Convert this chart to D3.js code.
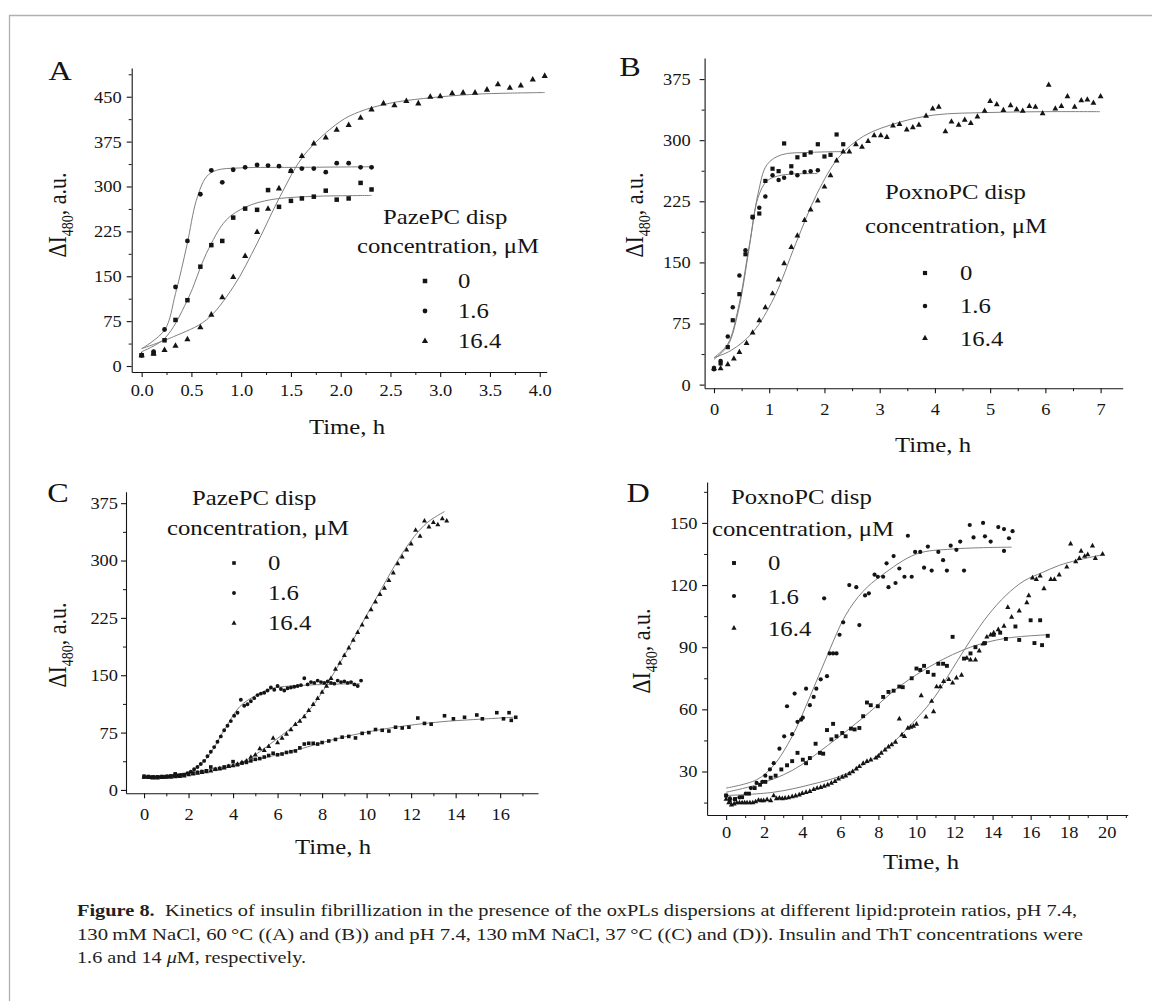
<!DOCTYPE html>
<html><head><meta charset="utf-8">
<script src="https://cdn.jsdelivr.net/npm/d3@7"></script>
<style>
body{margin:0;background:#fff}
svg{display:block}
svg text{font-family:"Liberation Serif","Times New Roman",Times,serif}
</style>
</head><body><svg id="fig" width="1152" height="1001"></svg>
<script>
// ================= DATA =================
const seriesLabels = ["0", "1.6", "16.4"];
const legendTitleA = ["PazePC disp", "concentration, \u03BCM"];
const legendTitleB = ["PoxnoPC disp", "concentration, \u03BCM"];

// ---- Panel A ----
const A_t = [0,0.12,0.23,0.34,0.46,0.59,0.70,0.81,0.92,1.04,1.16,1.27,1.38,1.50,1.61,1.73,1.85,1.96,2.08,2.20,2.31];
const A_v0 = [18,21,43,77,110,166,202,209,248,263,261,294,266,276,280,283,293,278,280,306,295];
const A_v16 = [18,24,61,132,209,287,327,307,328,332,336,335,334,326,330,330,324,339,339,332,332];
const A_t164 = [0,0.12,0.23,0.34,0.46,0.59,0.70,0.81,0.92,1.04,1.16,1.27,1.38,1.50,1.61,1.73,1.85,1.96,2.08,2.20,2.31,2.43,2.54,2.66,2.78,2.90,3.0,3.12,3.23,3.35,3.47,3.58,3.70,3.81,3.93,4.05];
const A_v164 = [18,21,27,34,45,65,86,115,149,184,224,263,297,326,351,372,382,395,403,415,429,439,436,443,439,450,451,456,457,457,462,471,465,469,479,485];
const A_fit0 = [[0,24],[0.23,46],[0.46,110],[0.65,188],[0.85,244],[1.05,266],[1.3,278],[1.65,283],[2.0,284.5],[2.31,285]];
const A_fit16 = [[0,29],[0.23,60],[0.34,121],[0.455,202],[0.55,277],[0.65,316],[0.75,327],[0.99,331],[1.6,332],[2.33,333]];
const A_fit164 = [[0,29],[0.32,49],[0.65,77],[0.92,132],[1.16,205],[1.39,283],[1.63,352],[1.99,408],[2.19,425],[2.49,439],[2.83,447],[3.33,454],[3.7,456],[4.05,457]];

// ---- Panel B ----
const B_t = [0,0.12,0.25,0.34,0.46,0.57,0.70,0.82,0.93,1.06,1.17,1.27,1.40,1.51,1.64,1.75,1.88,2.0,2.11,2.22,2.34];
const B_v0 = [20,26,46,79,111,160,206,210,250,265,262,296,268,279,282,285,295,280,282,307,295];
const B_v16 = [19,29,59,95,134,165,205,217,231,257,251,254,260,257,261,262,263];
const B_t164 = [0,0.12,0.25,0.36,0.46,0.59,0.70,0.82,0.93,1.06,1.17,1.27,1.40,1.51,1.64,1.75,1.88,2.0,2.11,2.22,2.34,2.45,2.57,2.68,2.79,2.90,3.02,3.13,3.24,3.36,3.49,3.60,3.71,3.84,3.96,4.07,4.19,4.30,4.43,4.54,4.65,4.77,4.90,5.0,5.12,5.24,5.37,5.48,5.59,5.71,5.82,5.95,6.06,6.18,6.29,6.40,6.53,6.65,6.76,6.87,7.0];
const B_v164 = [20,20,25,32,40,51,64,79,95,112,129,149,169,183,202,215,226,243,257,275,286,286,295,292,299,306,306,304,318,320,313,316,319,330,339,341,311,323,319,325,321,329,336,348,344,337,343,338,336,342,341,333,368,339,342,354,341,349,350,346,354];
const B_fit0 = [[0,31],[0.25,48],[0.44,90],[0.64,169],[0.80,235],[0.96,270],[1.22,282],[1.74,285],[2.32,286]];
const B_fit16 = [[0,33],[0.25,50],[0.44,94],[0.64,171],[0.80,230],[0.96,250],[1.22,257],[1.87,259]];
const B_fit164 = [[0,33],[0.31,42],[0.70,64],[1.09,107],[1.48,173],[1.87,235],[2.26,279],[2.71,305],[3.36,322],[4.0,331],[4.98,334],[6.0,335],[6.99,335]];

// ---- Panel C ----
const C_t0 = [0,0.2,0.4,0.6,0.8,1.0,1.2,1.4,1.6,1.8,2.0,2.2,2.4,2.6,2.8,3.0,3.2,3.4,3.6,3.8,4.0,4.2,4.4,4.6,4.8,5.0,5.2,5.4,5.6,5.8,6.0,6.2,6.4,6.6,6.8,7.0,7.2,7.4,7.6,7.8,8.0,8.3,8.6,8.9,9.2,9.5,9.8,10.1,10.4,10.7,11.0,11.3,11.6,11.9,12.3,12.6,12.9,13.5,13.9,14.4,14.95,15.2,15.85,16.15,16.4,16.5,16.7];
const C_v0 = [18,17.5,17,17,17.5,17.5,18,21,19,20,21,22,23,24,25,30,27,28,30,31,37,33,35,36,38,40,41,43,45,48,46,47,49,50,51,55,60,61,61,60,62,64,66,69,70,68,74,75,79,78,77,82,81,82,94,87,86,97,93,95,98,93,101,93,101,91,95];
const C_t16 = [0,0.15,0.3,0.45,0.6,0.75,0.9,1.05,1.2,1.35,1.5,1.65,1.8,1.95,2.1,2.25,2.4,2.55,2.7,2.85,3.0,3.15,3.3,3.45,3.6,3.75,3.9,4.05,4.2,4.35,4.5,4.65,4.8,4.95,5.1,5.25,5.4,5.55,5.7,5.85,6.0,6.15,6.3,6.45,6.6,6.75,6.9,7.05,7.2,7.35,7.5,7.65,7.8,7.95,8.1,8.25,8.4,8.55,8.7,8.85,9.0,9.15,9.3,9.45,9.6,9.75];
const C_v16 = [17,17,16.5,16.5,16.5,17,17,17.5,18,19,19,19.5,20,22,24,27,30,34,38,44,50,56,63,70,78,84,90,97,101,118,110,112,116,120,124,126,127,130,134,131,136,132,130,133,134,135,136,137,146,138,141,140,143,141,140,142,140,139,143,141,142,140,141,138,136,143];
const C_t164 = [0,0.2,0.4,0.6,0.8,1.0,1.2,1.4,1.6,1.8,2.0,2.2,2.4,2.6,2.8,3.0,3.2,3.4,3.6,3.8,4.0,4.2,4.4,4.6,4.8,5.0,5.2,5.4,5.6,5.8,6.0,6.2,6.4,6.6,6.8,7.0,7.2,7.4,7.6,7.8,8.0,8.2,8.4,8.6,8.8,9.0,9.2,9.4,9.6,9.8,10.0,10.2,10.4,10.6,10.8,11.0,11.2,11.4,11.6,11.8,12.0,12.2,12.4,12.6,12.8,13.0,13.2,13.4,13.6];
const C_v164 = [17,16.5,16,16,16.5,17,17,17.5,18,18.5,20,21,22,23,24,25,27,28,29,31,32,34,36,38,43,46,54,52,57,68,62,68,73,79,86,90,96,104,112,120,128,136,146,158,166,176,186,196,206,216,226,236,246,256,264,274,284,296,305,314,322,340,332,352,344,350,347,355,352];
const C_fit0 = [[0,17],[2.07,22],[4.3,35],[6.56,50],[8.8,68],[11.06,81],[13.3,89],[14.8,92],[16.6,95]];
const C_fit16 = [[0,17],[1.3,17.5],[2.07,24],[2.8,41],[3.6,78],[4.3,109],[5.06,124],[5.8,133],[7.3,137],[9.7,139]];
const C_fit164 = [[0,17],[2.07,22],[3.6,28],[4.6,39],[5.8,63],[7.3,100],[8.8,166],[10.3,244],[11.8,318],[12.7,349],[13.5,364]];

// ---- Panel D ----
const D_t0 = [0,0.19,0.47,0.84,1.2,1.5,1.78,2.06,2.34,2.6,2.9,3.2,3.47,3.75,4.03,4.2,4.4,4.7,4.93,5.1,5.3,5.53,5.62,5.8,6.1,6.28,6.56,6.75,7.0,7.2,7.4,7.6,7.97,8.25,8.53,8.8,9.1,9.28,9.75,10.0,10.2,10.4,10.6,10.9,11.15,11.4,11.6,11.9,12.5,12.84,13.1,13.6,14.06,14.4,14.7,15.2,15.4,16.0,16.2,16.5,16.6,16.9];
const D_v0 = [18.4,15.9,16.7,17.6,19.3,22,23.6,25,27,28,31,33,35,39,35.7,34,36.5,43.4,39,38.6,50,45.5,53,47,48.6,47,50.7,50.3,51,56.7,63.3,62,61.5,66,68.4,69,71,70.7,75,79.7,79,81,78,76.7,82,82,81,95,84.5,87,90,92,96,97,94,100,93.5,103,92,103,91,95.5];
const D_t16 = [0,0.2,0.45,0.7,1.03,1.3,1.6,1.9,2.06,2.3,2.5,2.8,3.05,3.2,3.47,3.6,3.75,3.94,4.03,4.2,4.4,4.6,4.74,4.97,5.15,5.3,5.44,5.62,5.8,5.96,6.15,6.47,6.84,7.0,7.3,7.5,7.8,7.97,8.25,8.43,8.53,8.8,8.9,9.1,9.37,9.55,9.75,9.93,10.2,10.4,10.6,10.8,11.15,11.4,11.6,11.8,12.1,12.3,12.5,12.8,13.0,13.5,13.6,13.9,14.3,14.6,14.6,14.86,15.05];
const D_v16 = [18.4,17,16.5,17.5,19.3,22,24.5,25,28,31,34,41,47,61.5,48,67.6,54,55,56,70,62,66,70,74.5,113.6,76,87,87,87,96,102,120,119,100.7,115,116,125,124,124,130.5,119,134,121,128,124,143.8,124,136,136,128.4,138.6,127,136,132,127,139,137,141,127,149,143,150,143.5,141,148,147,136.5,142.6,146];
const D_t164 = [0,0.14,0.28,0.42,0.56,0.7,0.84,0.97,1.1,1.25,1.4,1.55,1.7,1.84,1.97,2.15,2.34,2.5,2.65,2.8,2.95,3.1,3.28,3.47,3.65,3.84,4.0,4.2,4.4,4.6,4.78,4.97,5.15,5.34,5.53,5.72,5.9,6.1,6.28,6.47,6.65,6.84,7.0,7.2,7.4,7.6,7.87,8.0,8.15,8.35,8.53,8.7,8.9,9.1,9.24,9.37,9.55,9.7,9.84,10.0,10.25,10.5,10.8,10.9,11.06,11.25,11.43,11.7,11.9,12.1,12.37,12.65,12.84,13.1,13.3,13.5,13.7,13.9,14.06,14.3,14.6,14.8,15.0,15.4,15.8,15.9,16.1,16.3,16.5,16.7,17.06,17.25,17.5,17.9,18.1,18.37,18.56,18.65,18.84,19.0,19.25,19.4,19.78];
const D_v164 = [16.7,15,14,14.5,15,15,15,15,15,15,15,15.5,16.2,16,16,16.5,16,18.4,17,17.2,17,17.2,17.5,18,18.3,18.8,19.5,20,20.5,21.4,22,22.4,23,23.6,24.5,25.3,26.5,27.4,28,29,30,31.4,32.5,34,35,35.7,36.6,37.5,39,40.5,42,43,44.3,55.5,47.8,47,51,51.5,52,53,66.7,56.4,64,59,71,71,73.6,74.5,72.8,75.3,76.6,84.8,84,84,88.3,91.7,95,96,97,98.6,100.3,109.3,104.6,107.6,111.6,115,123.6,122.8,124.5,118.4,122.8,122.8,125,128.8,140,131.4,133,136.5,134,134.8,139,133,135];
const D_fit0 = [[0,20],[1.6,23.6],[3.47,30.5],[5.34,42.6],[7.2,56],[9.1,71],[10.96,82],[12.84,90],[14.7,94.3],[16.9,96]];
const D_fit16 = [[0,22],[1.6,26],[2.5,33],[3.47,47],[4.4,66],[5.34,86.6],[6.28,105.5],[7.2,117],[8.15,124.5],[10.0,135],[11.9,137.4],[15.0,138.3]];
const D_fit164 = [[0,18.4],[2.5,20],[4.4,23.6],[6.28,28.8],[8.15,39],[10.0,55.5],[10.96,66],[11.9,79.7],[12.84,93.4],[13.77,105.5],[14.7,115],[15.65,122],[16.6,126],[17.5,129.5],[18.46,132],[19.87,134.8]];

// ---- Caption ----
const captionBold = "Figure 8.";
const captionLine1 = "\u00A0\u00A0Kinetics of insulin fibrillization in the presence of the oxPLs dispersions at different lipid:protein ratios, pH 7.4,";
const captionLine2 = "130\u2009mM NaCl, 60\u2009\u00B0C ((A) and (B)) and pH 7.4, 130\u2009mM NaCl, 37\u2009\u00B0C ((C) and (D)). Insulin and ThT concentrations were";
const captionLine3a = "1.6 and 14 ";
const captionLine3mu = "\u03BC";
const captionLine3b = "M, respectively.";

// ================= DRAWING =================
const INK = "#141414";
const SX = 1.15;
const zip = (t, v) => t.map((x, i) => [x, v[i]]);
const svg = d3.select("#fig");
svg.append("rect").attr("width", 1152).attr("height", 1001).attr("fill", "#fff");
svg.append("path").attr("d", "M9.5,1001V15.5H1152").attr("fill", "none").attr("stroke", "#b0b0b0").attr("stroke-width", 1.3);

function hText(parent, x, y, str, size, anchor) {
  return parent.append("text")
    .attr("transform", `translate(${x},${y}) scale(${SX},1)`)
    .attr("font-size", size).attr("text-anchor", anchor || "start")
    .attr("fill", INK).text(str);
}
function symPath(type, s) {
  if (type === "square") return `M${-s/2},${-s/2}h${s}v${s}h${-s}Z`;
  if (type === "circle") return d3.symbol(d3.symbolCircle, Math.PI * (s/2) * (s/2))();
  const h = s * 0.9;
  return `M0,${-h*0.62}L${s/2},${h*0.38}L${-s/2},${h*0.38}Z`;
}
const TYPES = ["square", "circle", "triangle"];

function panel(c) {
  const x = d3.scaleLinear().domain(c.xd).range(c.xr);
  const y = d3.scaleLinear().domain(c.yd).range(c.yr);
  const g = svg.append("g");

  // fitted curves
  const line = d3.line().x(d => x(d[0])).y(d => y(d[1])).curve(d3.curveCatmullRom.alpha(0.5));
  g.append("g").selectAll("path").data(c.fits).join("path")
    .attr("d", d => line(d)).attr("fill", "none").attr("stroke", "#808080").attr("stroke-width", 1);

  // points
  c.series.forEach((s, i) => {
    g.append("g").selectAll("path").data(s).join("path")
      .attr("transform", d => `translate(${x(d[0])},${y(d[1])})`)
      .attr("d", symPath(TYPES[i], c.ms[i])).attr("fill", INK);
  });

  // axes
  const gx = g.append("g").attr("transform", `translate(0,${c.yr[0]})`)
    .call(d3.axisBottom(x).tickValues(c.xMajor).tickFormat(c.xFmt).tickSize(5).tickSizeOuter(0));
  gx.attr("font-family", null).attr("font-size", 16).attr("color", INK);
  gx.selectAll(".tick text").attr("y", 0).attr("dy", 0)
    .attr("transform", `translate(0,${c.xLabDy}) scale(${SX},1)`);
  g.append("g").attr("transform", `translate(0,${c.yr[0]})`)
    .call(d3.axisBottom(x).tickValues(c.xMinor).tickFormat("").tickSize(3))
    .attr("color", INK).call(s => s.select(".domain").remove());

  const gy = g.append("g").attr("transform", `translate(${c.xr[0]},0)`)
    .call(d3.axisLeft(y).tickValues(c.yMajor).tickFormat(d3.format("d")).tickSize(5).tickSizeOuter(0));
  gy.attr("font-family", null).attr("font-size", 16).attr("color", INK);
  gy.selectAll(".tick text").attr("x", 0).attr("dy", "0.34em")
    .attr("transform", `translate(${-c.yGap},0) scale(${SX},1)`);
  g.append("g").attr("transform", `translate(${c.xr[0]},0)`)
    .call(d3.axisLeft(y).tickValues(c.yMinor).tickFormat("").tickSize(3))
    .attr("color", INK).call(s => s.select(".domain").remove());
  gx.selectAll("line, path").attr("stroke-width", 1.1);
  gy.selectAll("line, path").attr("stroke-width", 1.1);

  // panel letter
  hText(g, c.letter[1], c.letter[2], c.letter[0], 28, "middle");
  // x title
  hText(g, c.xTitle[0], c.xTitle[1], "Time, h", 21.5, "middle");
  // y title (rotated)
  const yt = g.append("text")
    .attr("transform", `translate(${c.yTitle[0]},${c.yTitle[1]}) rotate(-90) scale(1,${SX})`)
    .attr("font-size", 22).attr("text-anchor", "middle").attr("fill", INK);
  yt.append("tspan").text("\u0394I");
  yt.append("tspan").attr("font-size", 14).attr("dy", 6).text("480");
  yt.append("tspan").attr("dy", -6).text(", a.u.");

  // legend
  c.legend.title.forEach(t => hText(g, t[1], t[2], t[0], 21.5, "start"));
  seriesLabels.forEach((lab, i) => {
    g.append("path").attr("transform", `translate(${c.legend.mx},${c.legend.my[i]})`)
      .attr("d", symPath(TYPES[i], c.ms[i])).attr("fill", INK);
    hText(g, c.legend.tx, c.legend.ty[i], lab, 21.5, "start");
  });
}

const steps = (a, b, s) => d3.range(a, b + s / 2, s);

panel({
  xd: [-0.1, 4.07], xr: [131.7, 546.7], yd: [-10, 498], yr: [372, 68],
  xMajor: steps(0, 4, 0.5), xMinor: steps(0.25, 3.75, 0.5), xFmt: d3.format(".1f"),
  yMajor: steps(0, 450, 75), yMinor: steps(37.5, 487.5, 75),
  yGap: 10, xLabDy: 23.5,
  series: [zip(A_t, A_v0), zip(A_t, A_v16), zip(A_t164, A_v164)],
  fits: [A_fit0, A_fit16, A_fit164], ms: [4.5, 4.8, 6.2],
  letter: ["A", 60, 80], xTitle: [347, 434], yTitle: [66, 215],
  legend: { title: [[legendTitleA[0], 383, 224], [legendTitleA[1], 357, 253]],
            tx: 458, ty: [288, 318, 348], mx: 425, my: [281, 311, 341] }
});
panel({
  xd: [-0.17, 7.4], xr: [704.6, 1122.7], yd: [-4.4, 401], yr: [388.2, 57.9],
  xMajor: steps(0, 7, 1), xMinor: steps(0.5, 6.5, 1), xFmt: d3.format("d"),
  yMajor: steps(0, 375, 75), yMinor: steps(37.5, 337.5, 75),
  yGap: 14, xLabDy: 27,
  series: [zip(B_t, B_v0), zip(B_t.slice(0, B_v16.length), B_v16), zip(B_t164, B_v164)],
  fits: [B_fit0, B_fit16, B_fit164], ms: [4.2, 4.5, 5.8],
  letter: ["B", 630, 76], xTitle: [933, 452], yTitle: [643, 215],
  legend: { title: [[legendTitleB[0], 885, 199], [legendTitleB[1], 865, 233]],
            tx: 960, ty: [280, 313, 346], mx: 925, my: [273, 306, 338] }
});
panel({
  xd: [-0.81, 17.7], xr: [126, 538], yd: [-4.4, 390], yr: [793.3, 491.7],
  xMajor: steps(0, 16, 2), xMinor: steps(1, 17, 2), xFmt: d3.format("d"),
  yMajor: steps(0, 375, 75), yMinor: steps(37.5, 337.5, 75),
  yGap: 8, xLabDy: 27,
  series: [zip(C_t0, C_v0), zip(C_t16, C_v16), zip(C_t164, C_v164)],
  fits: [C_fit0, C_fit16, C_fit164], ms: [3.6, 3.9, 5],
  letter: ["C", 58, 502], xTitle: [333, 854], yTitle: [66, 645],
  legend: { title: [[legendTitleA[0], 192, 505], [legendTitleA[1], 167, 535]],
            tx: 268, ty: [570, 600, 630], mx: 234, my: [563, 593, 623] }
});
panel({
  xd: [-1.0, 21.1], xr: [707.1, 1127.7], yd: [9, 169.7], yr: [815, 482.1],
  xMajor: steps(0, 20, 2), xMinor: steps(1, 21, 2), xFmt: d3.format("d"),
  yMajor: steps(30, 150, 30), yMinor: steps(15, 165, 30),
  yGap: 9.6, xLabDy: 23.3,
  series: [zip(D_t0, D_v0), zip(D_t16, D_v16), zip(D_t164, D_v164)],
  fits: [D_fit0, D_fit16, D_fit164], ms: [3.9, 4.2, 5.2],
  letter: ["D", 638, 502], xTitle: [921, 869], yTitle: [650, 651],
  legend: { title: [[legendTitleB[0], 731, 504], [legendTitleB[1], 712, 536]],
            tx: 768, ty: [570, 604, 636], mx: 734, my: [563, 596, 628] }
});

// caption
const cap = svg.append("g").attr("fill", "#231f20").attr("font-size", 17);
const l1 = cap.append("text").attr("x", 77).attr("y", 916).attr("textLength", 1000).attr("lengthAdjust", "spacingAndGlyphs");
l1.append("tspan").attr("font-weight", "bold").text(captionBold);
l1.append("tspan").text(captionLine1);
cap.append("text").attr("x", 77).attr("y", 940).attr("textLength", 1006).attr("lengthAdjust", "spacingAndGlyphs").text(captionLine2);
const l3 = cap.append("text").attr("x", 77).attr("y", 963).attr("textLength", 229).attr("lengthAdjust", "spacingAndGlyphs");
l3.append("tspan").text(captionLine3a);
l3.append("tspan").attr("font-style", "italic").text(captionLine3mu);
l3.append("tspan").text(captionLine3b);
</script>
</body></html>
